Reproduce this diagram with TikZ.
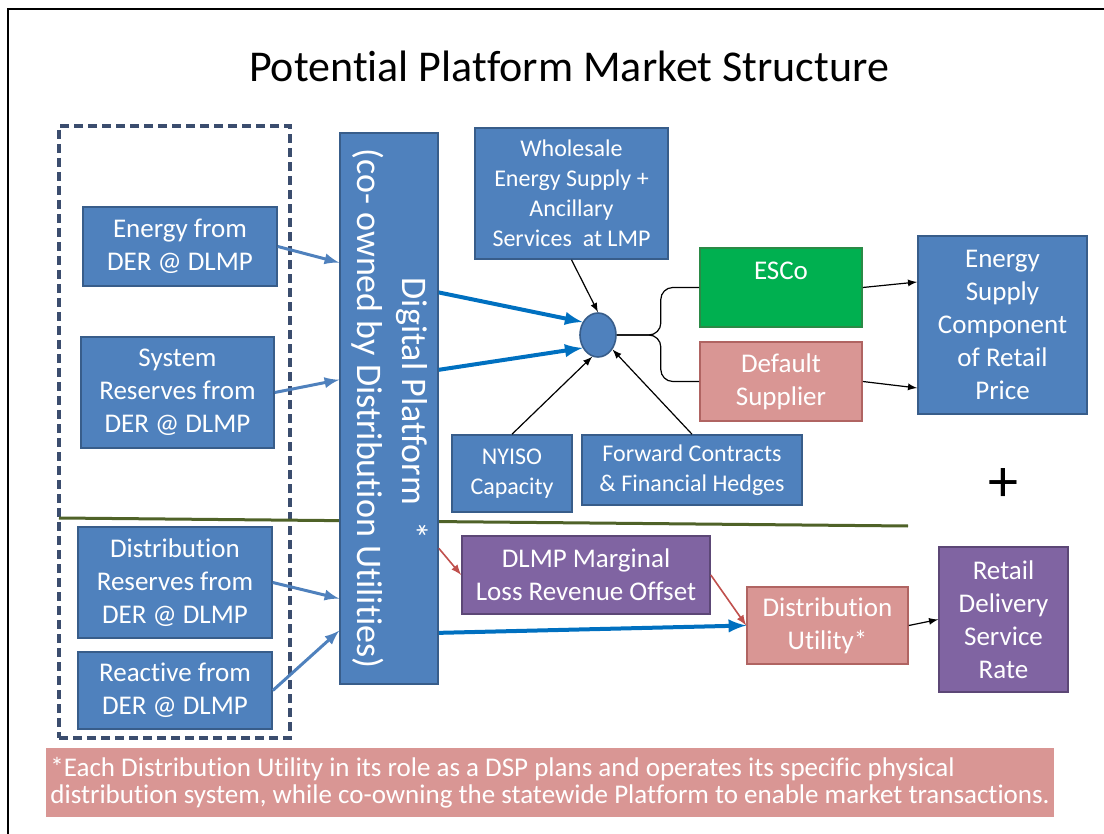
\documentclass[tikz,border=0pt]{standalone}
\usepackage{fontspec}
\setmainfont[Ligatures=NoCommon]{Carlito}
\usepackage{graphicx}
\usetikzlibrary{shapes, arrows, positioning, calc}

\definecolor{accblue}{HTML}{4F81BD}
\definecolor{accblueline}{HTML}{385D8A}
\definecolor{accgreen}{HTML}{00B050}
\definecolor{accgreenline}{HTML}{2B8A46}
\definecolor{accpink}{HTML}{D99694}
\definecolor{accpinkline}{HTML}{B06462}
\definecolor{accpurple}{HTML}{8064A2}
\definecolor{accpurpleline}{HTML}{5C4776}
\definecolor{accred}{HTML}{C0504D}
\definecolor{arrowblue}{HTML}{0070C0}
\definecolor{divolive}{HTML}{4F6228}
\definecolor{dashnavy}{HTML}{3B4D6E}

\begin{document}
\begin{tikzpicture}[x=0.5pt, y=-0.5pt,
    boxtext/.style={rectangle, text=white, align=center, inner sep=2pt, line width=0.8pt, font=\fontsize{13.5}{16.5}\selectfont},
    bluebox/.style={boxtext, draw=accblueline, fill=accblue},
    greenbox/.style={boxtext, draw=accgreenline, fill=accgreen},
    pinkbox/.style={boxtext, draw=accpinkline, fill=accpink},
    purplebox/.style={boxtext, draw=accpurpleline, fill=accpurple},
    smalltext/.style={font=\fontsize{12}{15}\selectfont},
    leftarrow/.style={-latex, line width=1.5pt, draw=accblue},
    bigarrow/.style={-latex, line width=2pt, draw=arrowblue},
    redarrow/.style={-latex, line width=0.8pt, draw=accred},
    thinarrow/.style={-latex, line width=0.6pt}]
                \useasboundingbox (0,0) rectangle (1104,834);
                \draw[line width=1.2pt] (8,834) -- (8,9) -- (1104,9);
                \node (title) at (569,66) {\fontsize{22}{26}\selectfont Potential Platform Market Structure};
                \node[draw=dashnavy, dashed, dash pattern=on 4.5pt off 2.5pt, line width=1.6pt, minimum width=115.5pt, minimum height=306pt] (dashbox) at (174.5,432) {};
                \draw[divolive, line width=1.5pt] (59,518) -- (908,526);
                \node[bluebox, minimum width=97pt, minimum height=39.5pt] (energy) at (180,246.5) {Energy from\\DER @ DLMP};
                \node[bluebox, minimum width=96.5pt, minimum height=55.5pt] (sysres) at (177.5,392.5) {System\\Reserves from\\DER @ DLMP};
                \node[bluebox, minimum width=97pt, minimum height=55.5pt] (distres) at (175,582.5) {Distribution\\Reserves from\\DER @ DLMP};
                \node[bluebox, minimum width=97pt, minimum height=38.5pt] (reactive) at (175,690.5) {Reactive from\\DER @ DLMP};
                \node[bluebox, minimum width=49pt, minimum height=275.5pt] (platform) at (389,408.5) {\rotatebox{-90}{\fontsize{18}{22.5}\selectfont\begin{tabular}{@{}c@{}}Digital Platform ~*\\(co- owned by Distribution Utilities)\end{tabular}}};
                \draw[leftarrow] (energy.east) -- ($(platform.north west)!0.236!(platform.south west)$);
                \draw[leftarrow] (sysres.east) -- ($(platform.north west)!0.448!(platform.south west)$);
                \draw[leftarrow] (distres.east) -- ($(platform.north west)!0.844!(platform.south west)$);
                \draw[leftarrow] (reactive.east) -- ($(platform.north west)!0.902!(platform.south west)$);
                \node[bluebox, smalltext, minimum width=96.5pt, minimum height=65.5pt] (wholesale) at (571.5,193.5) {Wholesale\\Energy Supply +\\Ancillary\\Services ~at LMP};
                \node[ellipse, draw=accblueline, fill=accblue, line width=0.8pt, minimum width=18pt, minimum height=22pt] (hub) at (598,335) {};
                \node[greenbox, minimum width=81pt, minimum height=39.5pt] (esco) at (781,287.5) {ESCo\\\phantom{E}};
                \node[pinkbox, minimum width=81pt, minimum height=39.5pt] (defsup) at (781,381.5) {Default\\Supplier};
                \node[bluebox, minimum width=84.5pt, minimum height=89pt] (supplycomp) at (1002.5,325) {Energy\\Supply\\Component\\of Retail\\Price};
                \node[bluebox, smalltext, minimum width=60pt, minimum height=38.5pt] (nyiso) at (512,473.5) {NYISO\\Capacity};
                \node[bluebox, smalltext, minimum width=110pt, minimum height=35pt] (fwd) at (692,470) {Forward Contracts\\\& Financial Hedges};
                \draw[bigarrow] ($(platform.north east)!0.29!(platform.south east)$) -- (hub.140);
                \draw[bigarrow] ($(platform.north east)!0.43!(platform.south east)$) -- (hub.220);
                \draw[thinarrow] (wholesale.south) -- (hub.north);
                \draw[thinarrow] (nyiso.north) -- (hub.255);
                \draw[thinarrow] (fwd.north) -- (hub.315);
                \draw[line width=0.6pt, rounded corners=6pt] (hub.east) -- ++(44,0) |- (esco.west);
                \draw[line width=0.6pt, rounded corners=6pt] (hub.east) -- ++(44,0) |- (defsup.west);
                \draw[thinarrow] (esco.east) -- ($(supplycomp.west)+(0,-43)$);
                \draw[thinarrow] (defsup.east) -- ($(supplycomp.west)+(0,63)$);
                \node (plus) at (1003,485) {\fontsize{30}{30}\selectfont +};
                \node[purplebox, minimum width=124pt, minimum height=39pt] (dlmp) at (586,575) {DLMP Marginal\\Loss Revenue Offset};
                \node[pinkbox, minimum width=80.5pt, minimum height=38.5pt] (distutil) at (827.5,625.5) {Distribution\\Utility*};
                \node[purplebox, minimum width=64.5pt, minimum height=72.5pt] (retail) at (1003.5,619.5) {Retail\\Delivery\\Service\\Rate};
                \draw[redarrow] ($(platform.north east)!0.753!(platform.south east)$) -- (dlmp.west);
                \draw[redarrow] (dlmp.east) -- (distutil.west);
                \draw[bigarrow] ($(platform.north east)!0.906!(platform.south east)$) -- (distutil.west);
                \draw[thinarrow] (distutil.east) -- (retail.west);
                \node[fill=accpink, text=white, align=left, inner sep=2pt, minimum width=504pt, minimum height=34.5pt, font=\fontsize{13.5}{13.5}\selectfont] (note) at (550,782.5) {*Each Distribution Utility in its role as a DSP plans and operates its specific physical\\distribution system, while co-owning the statewide Platform to enable market transactions.};
            \end{tikzpicture}
\end{document}
